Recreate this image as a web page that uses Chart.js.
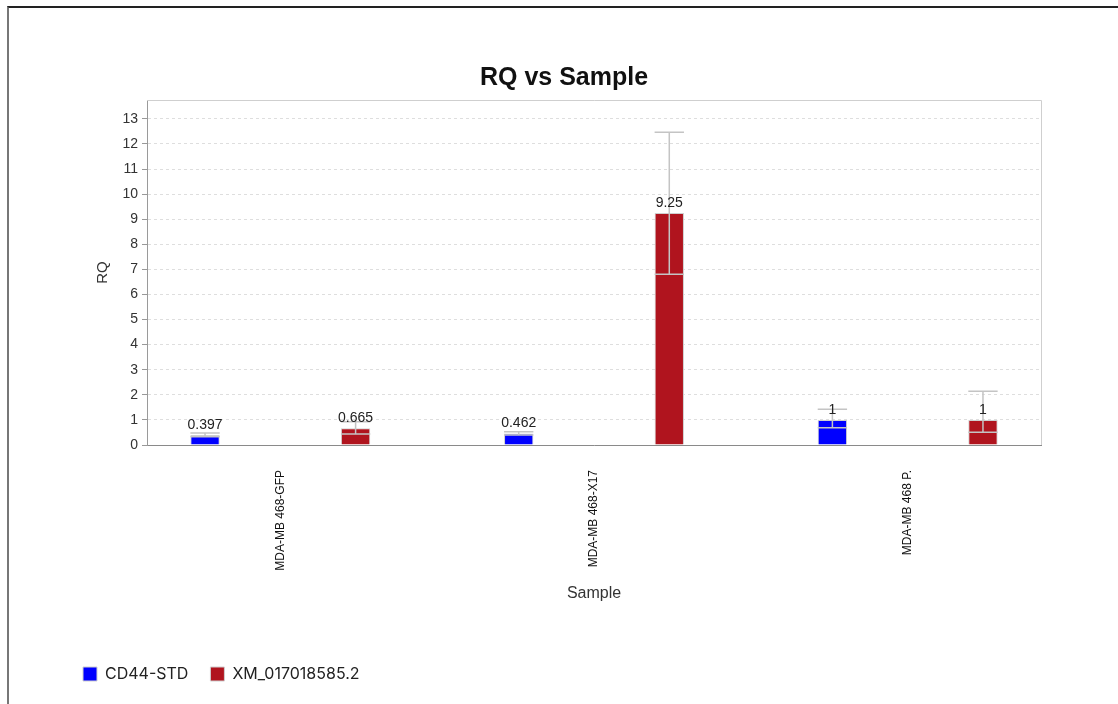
<!DOCTYPE html>
<html>
<head>
<meta charset="utf-8">
<script src="https://cdn.jsdelivr.net/npm/chart.js@4.4.1/dist/chart.umd.min.js"></script>
<style>
  body { margin: 0; background: #fff; }
  #wrap { position: relative; width: 1118px; height: 704px; }
  #frame { position: absolute; left: 7px; top: 6px; right: 0; bottom: 0;
           border-top: 2px solid #222; border-left: 2px solid #777; pointer-events: none; }
  canvas { position: absolute; left: 0; top: 0; }
</style>
</head>
<body>
<div id="wrap">
  <canvas id="rqCanvas" width="1118" height="704"></canvas>
  <div id="frame"></div>
</div>
<script>
// samples on the x axis
const samples = ['MDA-MB 468-GFP', 'MDA-MB 468-X17', 'MDA-MB 468 P.'];

// RQ values
const cd44 = [0.397, 0.462, 1];
const xm = [0.665, 9.25, 1];

// error bar limits
const cd44Low = [0.33, 0.40, 0.69];
const cd44High = [0.48, 0.53, 1.42];
const xmLow = [0.44, 6.81, 0.51];
const xmHigh = [0.93, 12.46, 2.14];

const yTicks = [0, 1, 2, 3, 4, 5, 6, 7, 8, 9, 10, 11, 12, 13];

const axisFont = { family: 'Liberation Sans, Arial, sans-serif', size: 14 };

// frame of the plot area + error bars + value labels
const rqPlugin = {
    id: 'rqExtras',
    beforeDatasetsDraw(chart) {
        const a = chart.chartArea;
        const ctx = chart.ctx;
        ctx.save();
        ctx.strokeStyle = '#cfcfcf';
        ctx.lineWidth = 1;
        ctx.beginPath();
        ctx.moveTo(a.left, a.top + 0.5);
        ctx.lineTo(a.right + 0.5, a.top + 0.5);
        ctx.lineTo(a.right + 0.5, a.bottom);
        ctx.stroke();
        ctx.restore();
    },
    afterDatasetsDraw(chart) {
        const ctx = chart.ctx;
        const y = chart.scales.y;
        const lows = [cd44Low, xmLow];
        const highs = [cd44High, xmHigh];
        chart.data.datasets.forEach(function(ds, d) {
            const meta = chart.getDatasetMeta(d);
            meta.data.forEach(function(bar, i) {
                const x = bar.x;
                const w = bar.width;
                const yl = y.getPixelForValue(lows[d][i]);
                const yh = y.getPixelForValue(highs[d][i]);
                ctx.save();
                ctx.strokeStyle = '#c4c4c4';
                ctx.lineWidth = 1.5;
                ctx.beginPath();
                ctx.moveTo(x, yl); ctx.lineTo(x, yh);
                ctx.moveTo(x - w / 2, yl); ctx.lineTo(x + w / 2, yl);
                ctx.moveTo(x - w / 2, yh); ctx.lineTo(x + w / 2, yh);
                ctx.stroke();
                ctx.restore();
            });
        });
        chart.data.datasets.forEach(function(ds, d) {
            const meta = chart.getDatasetMeta(d);
            meta.data.forEach(function(bar, i) {
                ctx.save();
                ctx.fillStyle = '#222';
                ctx.font = '14px "Liberation Sans", Arial, sans-serif';
                ctx.textAlign = 'center';
                ctx.textBaseline = 'bottom';
                ctx.fillText(String(ds.data[i]), bar.x, bar.y - 3);
                ctx.restore();
            });
        });
    }
};

const rqChart = new Chart(document.getElementById('rqCanvas'), {
    type: 'bar',
    data: {
        labels: samples,
        datasets: [{
            label: 'CD44-STD',
            data: cd44,
            backgroundColor: '#0000ff',
            borderColor: '#cfcfcf',
            borderWidth: 1
        }, {
            label: 'XM_017018585.2',
            data: xm,
            backgroundColor: '#b0141e',
            borderColor: '#cfcfcf',
            borderWidth: 1
        }]
    },
    options: {
        responsive: false,
        animation: false,
        categoryPercentage: 0.96,
        barPercentage: 0.195,
        layout: { padding: { left: 61, right: 51, top: 0, bottom: 12 } },
        plugins: {
            tooltip: { enabled: false },
            title: {
                display: true,
                text: 'RQ vs Sample',
                color: '#111',
                font: { family: 'Liberation Sans, Arial, sans-serif', size: 25, weight: 'bold' },
                padding: { top: 63, bottom: 7 }
            },
            legend: {
                position: 'bottom',
                align: 'start',
                labels: {
                    boxWidth: 14,
                    boxHeight: 14,
                    padding: 22,
                    color: '#222',
                    font: { family: 'Inter, sans-serif', size: 16 }
                }
            }
        },
        scales: {
            x: {
                offset: true,
                grid: { display: false, drawTicks: false },
                border: { display: true, color: '#8a8a8a', width: 1 },
                afterBuildTicks: function(scale) {
                    scale._startValue = -0.425;
                    scale._valueRange = 2.85;
                },
                afterFit: function(scale) { scale.height = 199; },
                ticks: {
                    minRotation: 90,
                    maxRotation: 90,
                    padding: 25,
                    color: '#111',
                    font: { family: 'Liberation Sans, Arial, sans-serif', size: 12 }
                },
                title: {
                    display: true,
                    text: 'Sample',
                    color: '#333',
                    font: { family: 'Liberation Sans, Arial, sans-serif', size: 16 },
                    padding: { top: 0, bottom: 41 }
                }
            },
            y: {
                min: 0,
                max: 13.75,
                afterBuildTicks: function(scale) {
                    scale.ticks = yTicks.map(v => ({ value: v }));
                },
                afterFit: function(scale) { scale.width = 86; },
                grid: {
                    color: '#dedede',
                    tickColor: '#999',
                    tickLength: 5,
                    tickBorderDash: []
                },
                border: { display: true, color: '#9a9a9a', width: 1, dash: [3, 3] },
                ticks: {
                    padding: 4,
                    color: '#333',
                    font: axisFont
                },
                title: {
                    display: true,
                    text: 'RQ',
                    color: '#333',
                    font: { family: 'Liberation Sans, Arial, sans-serif', size: 15 },
                    padding: { top: 33, bottom: 0 }
                }
            },
            // empty right-hand spacer so the title centres like the original
            spacer: {
                type: 'linear',
                position: 'right',
                grid: { display: false },
                border: { display: false },
                ticks: { display: false },
                afterFit: function(scale) { scale.width = 26; }
            }
        }
    },
    plugins: [rqPlugin]
});
</script>
</body>
</html>
